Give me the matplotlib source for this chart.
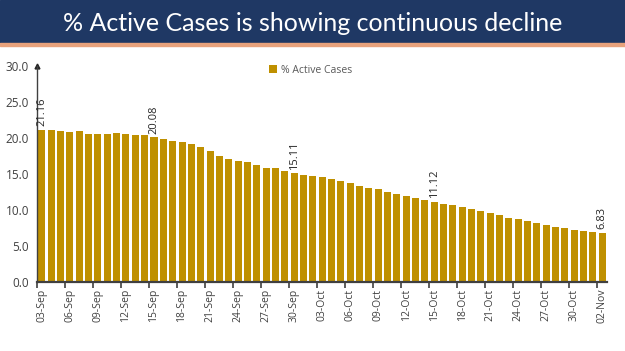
import numpy as np
import pandas as pd
import matplotlib
matplotlib.use('Agg')
import matplotlib.pyplot as plt

# % active cases, one bar per day
dates = pd.date_range('2020-09-03', '2020-11-02', freq='D')
date_labels = [d.strftime('%d-%b') for d in dates]
active_pct = [21.16, 21.05, 21.0, 20.9, 20.95, 20.6, 20.5, 20.5, 20.65, 20.5,
              20.45, 20.35, 20.08, 19.8, 19.6, 19.5, 19.1, 18.7, 18.2, 17.55,
              17.1, 16.85, 16.67, 16.3, 15.9, 15.8, 15.4, 15.11, 14.86, 14.7,
              14.6, 14.25, 14.07, 13.7, 13.4, 13.1, 12.87, 12.55, 12.2, 12.0,
              11.6, 11.4, 11.12, 10.9, 10.7, 10.4, 10.15, 9.86, 9.63, 9.3,
              8.93, 8.7, 8.5, 8.2, 7.87, 7.6, 7.45, 7.27, 7.12, 6.94, 6.83]
labelled = [0, 12, 27, 42, 60]   # bars with a value printed on top
title = '% Active Cases is showing continuous decline'
series_name = '% Active Cases'

bar_color = '#BF9000'
text_color = '#404040'

plt.rcParams['font.family'] = ['Open Sans', 'DejaVu Sans']

fig = plt.figure(figsize=(6.25, 3.51), dpi=100)

# title banner
banner = fig.add_axes([0, 1 - 43 / 351, 1, 43 / 351])
banner.set_axis_off()
banner.add_patch(plt.Rectangle((0, 0), 1, 1, color='#1F3864', transform=banner.transAxes))
fig.add_artist(plt.Rectangle((0, 1 - 46 / 351), 1, 3 / 351, color='#E8A27C',
                             transform=fig.transFigure))
banner.text(0.5, 0.46, title, color='white', fontsize=18, family='Lato',
            ha='center', va='center', transform=banner.transAxes)

ax = fig.add_axes([37.3 / 625, 69 / 351, 569.5 / 625, 216 / 351])
x = np.arange(len(active_pct))
ax.bar(x, active_pct, width=0.75, color=bar_color, label=series_name, zorder=2)

for i in labelled:
    ax.text(x[i], active_pct[i] + 0.5, f'{active_pct[i]:.2f}', rotation=90,
            ha='center', va='bottom', fontsize=8, color='#262626')

ax.set_xlim(-0.5, len(x) - 0.5)
ax.set_ylim(0, 30)
ax.set_yticks(np.arange(0, 31, 5))
ax.set_yticklabels([f'{v:.1f}' for v in np.arange(0, 31, 5)], fontsize=8.5, color=text_color)
ax.tick_params(axis='y', length=0, pad=6)

ax.set_xticks(x[::3] - 0.5)
ax.set_xticklabels([])
ax.set_xticks(x[::3], minor=True)
ax.set_xticklabels(date_labels[::3], minor=True, rotation=90, fontsize=7.5, color=text_color)
ax.tick_params(axis='x', which='major', length=4, width=1.2, color='#404040', direction='out')
ax.tick_params(axis='x', which='minor', length=0, pad=5)

for s in ['top', 'right']:
    ax.spines[s].set_visible(False)
ax.spines['bottom'].set_color('#404040')
ax.spines['bottom'].set_linewidth(1.6)
ax.spines['left'].set_color('#404040')
ax.spines['left'].set_linewidth(1.0)
ax.plot(0, 1, marker='^', markersize=3.5, color='#262626', transform=ax.transAxes,
        clip_on=False)

ax.legend(loc='upper center', bbox_to_anchor=(0.48, 1.05), frameon=False, fontsize=7.5,
          handlelength=0.7, handleheight=0.7, handletextpad=0.4, labelcolor='#595959')

fig.savefig('out.png', dpi=100)
